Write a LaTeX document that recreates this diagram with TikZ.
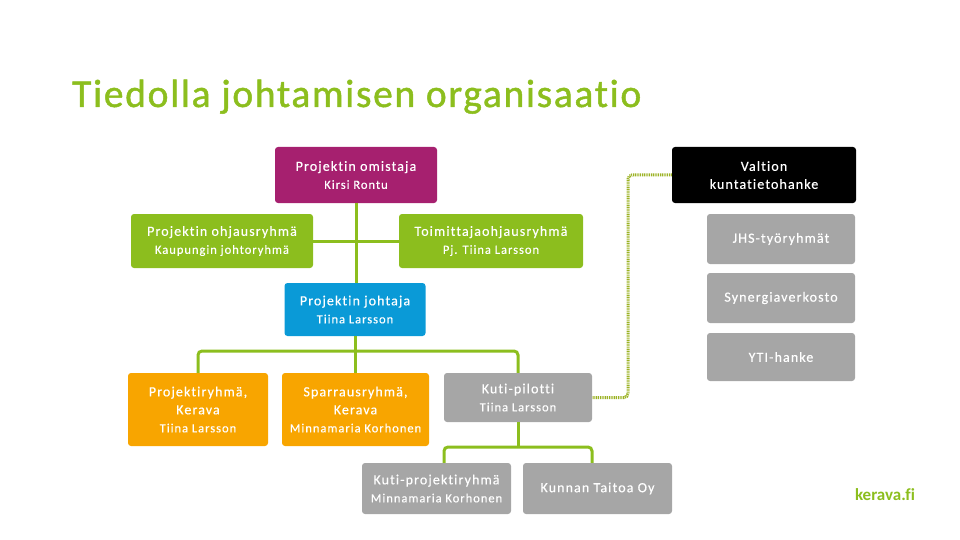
\documentclass[tikz,border=0pt]{standalone}
\usepackage{fontspec}
\setmainfont{Carlito}[Ligatures=NoCommon]
\newfontfamily\boxfont{Carlito}[LetterSpace=8,FakeBold=0.4,Ligatures=NoCommon]
\newfontfamily\titlefont{Carlito}[LetterSpace=4.3,FakeBold=1.2,Ligatures=NoCommon]
\definecolor{kgreen}{HTML}{8CBE1E}
\definecolor{kdot}{HTML}{9BB224}
\definecolor{kmag}{HTML}{A6206F}
\definecolor{kblue}{HTML}{0A9AD7}
\definecolor{korange}{HTML}{F8A500}
\definecolor{kgray}{HTML}{A6A6A6}
\newcommand{\boxtl}[1]{{\fontsize{14}{18}\selectfont #1}}
\newcommand{\boxsl}[1]{{\fontsize{12.5}{18}\selectfont #1}}
\tikzset{
  box/.style={rectangle, rounded corners=3pt, text=white, align=center, inner sep=0pt, font=\boxfont\fontsize{14}{18}\selectfont},
  conn/.style={draw=kgreen, line width=3pt, rounded corners=4pt},
  dotline/.style={draw=kdot, line width=3pt, dash pattern=on 1pt off 0.8pt, rounded corners=4pt}
}
\begin{document}
\begin{tikzpicture}[x=1pt,y=-1pt]
\useasboundingbox (0,0) rectangle (960,540);
\node[anchor=base west, text=kgreen, font=\titlefont\fontsize{39.5}{44}\selectfont, inner sep=0pt] (title) at (72,107) {Tiedolla johtamisen organisaatio};
% boxes
\node[box, fill=kmag, minimum width=162pt, minimum height=56pt] (own) at (356,175) {\boxtl{Projektin omistaja}\\\boxsl{Kirsi Rontu}};
\node[box, fill=kgreen, minimum width=182pt, minimum height=54pt] (ohj) at (222,241) {\boxtl{Projektin ohjausryhmä}\\\boxsl{Kaupungin johtoryhmä}};
\node[box, fill=kgreen, minimum width=184pt, minimum height=54pt] (toim) at (491,241) {\boxtl{Toimittajaohjausryhmä}\\\boxsl{Pj. Tiina Larsson}};
\node[box, fill=black, minimum width=184pt, minimum height=56pt] (val) at (764,175) {\boxtl{Valtion}\\\boxtl{kuntatietohanke}};
\node[box, fill=kgray, minimum width=148pt, minimum height=50pt] (jhs) at (781,239) {\boxtl{JHS-työryhmät}};
\node[box, fill=kgray, minimum width=148pt, minimum height=50pt] (syn) at (781,298) {\boxtl{Synergiaverkosto}};
\node[box, fill=kgray, minimum width=148pt, minimum height=48pt] (yti) at (781,357) {\boxtl{YTI-hanke}};
\node[box, fill=kblue, minimum width=141pt, minimum height=53pt] (pj) at (355,309.5) {\boxtl{Projektin johtaja}\\\boxsl{Tiina Larsson}};
\node[box, fill=korange, minimum width=140pt, minimum height=73pt] (pr) at (198,409.5) {\boxtl{Projektiryhmä,}\\\boxtl{Kerava}\\\boxsl{Tiina Larsson}};
\node[box, fill=korange, minimum width=147pt, minimum height=73pt] (sp) at (355.5,409.5) {\boxtl{Sparrausryhmä,}\\\boxtl{Kerava}\\\boxsl{Minnamaria Korhonen}};
\node[box, fill=kgray, minimum width=148pt, minimum height=49pt] (kp) at (518,397.5) {\boxtl{Kuti-pilotti}\\\boxsl{Tiina Larsson}};
\node[box, fill=kgray, minimum width=149pt, minimum height=51pt] (kproj) at (436.5,488.5) {\boxtl{Kuti-projektiryhmä}\\\boxsl{Minnamaria Korhonen}};
\node[box, fill=kgray, minimum width=149pt, minimum height=51pt] (kt) at (597.5,488.5) {\boxtl{Kunnan Taitoa Oy}};
\node[text=kgreen, font=\fontsize{17}{20}\selectfont\bfseries, inner sep=0pt, anchor=base] (web) at (885,500) {kerava.fi};
% connectors
\coordinate (bus) at (355,351);
\coordinate (kbus) at (518,447);
\coordinate (dc) at (628,300);
\draw[conn] (own.south) -- (own.south |- pj.north);
\draw[conn, rounded corners=0pt] (ohj.east) -- (toim.west);
\draw[conn] (pj.south) -- (pj.south |- sp.north);
\draw[conn] (pr.north) |- (bus) -| (kp.north);
\draw[conn] (kp.south) -- (kbus);
\draw[conn] ([xshift=7.5pt]kproj.north) |- (kbus) -| ([xshift=-5.5pt]kt.north);
\draw[dotline] (val.west) -| (dc) |- (kp.east);
\end{tikzpicture}
\end{document}
